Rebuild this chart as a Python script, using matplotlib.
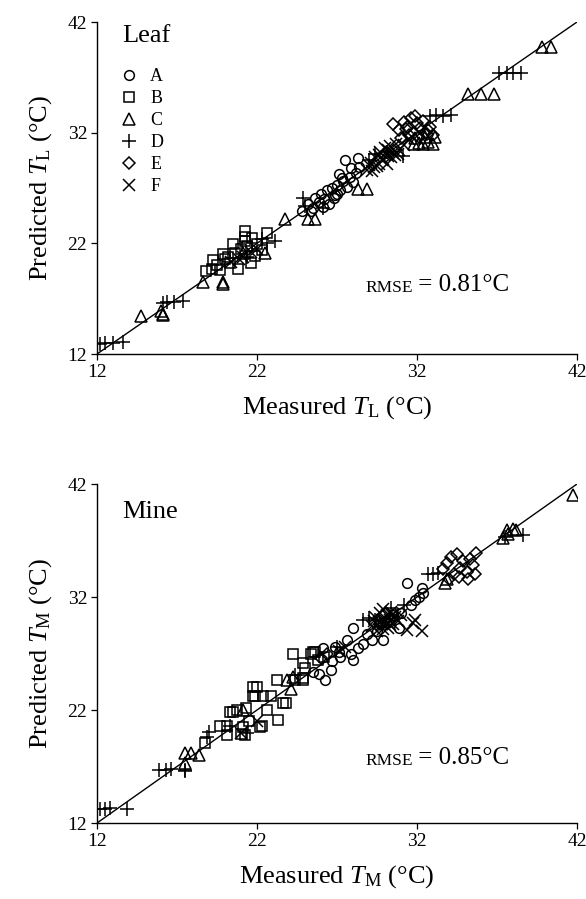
import matplotlib
matplotlib.use('Agg')
import matplotlib.pyplot as plt

plt.rcParams['font.family'] = 'Liberation Serif'
plt.rcParams['mathtext.fontset'] = 'custom'
plt.rcParams['mathtext.rm'] = 'Liberation Serif'
plt.rcParams['mathtext.it'] = 'Liberation Serif:italic'

# ---- Leaf panel: measured vs predicted leaf temperature (deg C) ----
leaf_a_meas = [24.8, 25.2, 25.5, 25.6, 25.9, 26.0, 26.2, 26.4, 26.5, 26.7, 26.9, 27.0, 27.2, 27.4,
               27.6, 27.8, 28.0, 28.2, 28.4, 25.4, 26.1, 26.8, 27.3, 27.9, 27.5, 28.3, 27.1, 27.0]
leaf_a_pred = [24.9, 25.6, 25.2, 26.1, 25.7, 26.5, 26.0, 26.8, 25.6, 27.0, 26.4, 27.3, 26.8, 27.6,
               27.1, 28.0, 27.5, 28.4, 28.9, 24.9, 25.3, 26.1, 27.9, 28.8, 29.5, 29.7, 28.3, 26.5]
leaf_b_meas = [19.2, 19.25, 19.7, 19.9, 20.3, 20.5, 20.6, 20.8, 21.25, 21.25, 21.25, 21.6, 21.7,
               22.0, 22.6, 19.5, 20.0, 21.0, 21.9, 22.3, 20.2, 21.4, 18.8]
leaf_b_pred = [19.7, 20.5, 19.6, 21.0, 20.2, 21.9, 21.1, 19.7, 23.1, 22.6, 22.2, 20.2, 22.5,
               21.9, 22.9, 20.0, 20.6, 21.5, 20.9, 21.4, 20.8, 21.8, 19.5]
leaf_c_meas = [14.75, 16.1, 16.1, 16.0, 18.6, 19.9, 19.9, 21.1, 22.5, 23.75, 25.2, 25.6, 28.3, 28.9,
               31.8, 32.1, 32.4, 32.7, 33.0, 31.9, 32.5, 33.1, 35.2, 36.0, 36.8, 39.8, 40.4]
leaf_c_pred = [15.4, 15.5, 15.6, 15.9, 18.5, 18.5, 18.3, 21.1, 21.1, 24.2, 24.2, 24.2, 26.9, 26.9,
               31.0, 31.1, 31.0, 31.2, 31.0, 31.5, 31.6, 31.6, 35.5, 35.5, 35.5, 39.7, 39.7]
leaf_d_meas = [12.2, 12.5, 13.0, 13.6, 16.1, 16.4, 16.8, 17.4, 21.4, 22.3, 23.1, 22.6, 25.0, 24.9,
               26.1, 29.0, 29.4, 30.1, 31.1, 32.8, 33.2, 33.6, 34.1, 37.1, 37.6, 38.0, 38.5]
leaf_d_pred = [12.9, 13.0, 13.0, 13.1, 16.6, 16.7, 16.7, 16.8, 20.8, 22.4, 22.2, 22.0, 25.4, 26.1,
               25.2, 29.5, 30.1, 30.3, 29.9, 33.5, 33.6, 33.5, 33.6, 37.4, 37.4, 37.4, 37.4]
leaf_e_meas = [30.5, 30.9, 31.2, 31.4, 31.6, 31.8, 32.0, 32.2, 32.4, 32.6, 32.8, 33.0, 31.0, 31.5,
               32.1, 32.7, 31.3, 31.9, 32.5]
leaf_e_pred = [32.8, 32.2, 33.0, 32.5, 33.3, 32.0, 32.9, 32.4, 33.1, 31.9, 32.5, 31.8, 31.5, 31.8,
               31.6, 32.2, 32.3, 33.5, 32.0]
leaf_f_meas = [28.9, 29.1, 29.3, 29.4, 29.6, 29.7, 29.9, 30.0, 30.2, 30.3, 30.5, 30.7, 30.9, 29.2,
               29.5, 29.8, 30.1, 30.4, 30.6, 29.0, 29.6, 30.2, 30.8, 31.2, 31.5, 21.1, 21.6, 22.0,
               20.4, 20.9]
leaf_f_pred = [28.6, 29.3, 28.9, 29.8, 29.2, 30.3, 29.6, 30.6, 29.9, 30.8, 30.2, 31.0, 30.4, 28.5,
               29.0, 29.5, 29.2, 29.8, 30.0, 29.1, 30.0, 30.4, 30.1, 30.9, 31.4, 20.8, 21.2, 21.5,
               20.3, 20.6]

# ---- Mine panel: measured vs predicted mine temperature (deg C) ----
mine_a_meas = [31.4, 32.3, 32.4, 32.1, 31.9, 31.6, 28.0, 29.9, 29.2, 28.6, 28.3, 28.0, 27.2, 26.7,
               26.1, 27.6, 30.9, 26.25, 26.6, 25.9, 27.1, 27.9, 28.9, 29.5, 30.5, 31.0, 25.5, 26.9]
mine_a_pred = [33.2, 32.8, 32.4, 32.0, 31.7, 31.3, 29.3, 28.2, 28.2, 27.8, 27.5, 26.4, 26.7, 26.3,
               27.5, 28.2, 29.3, 24.65, 25.5, 25.2, 27.1, 27.0, 28.7, 29.0, 30.4, 30.6, 25.4, 27.6]
mine_b_meas = [18.75, 19.7, 20.1, 20.3, 20.75, 21.1, 21.25, 21.75, 21.75, 22.4, 22.6, 22.2, 23.3,
               23.6, 23.8, 23.25, 24.25, 24.9, 25.4, 25.8, 24.9, 24.4, 22.0, 21.9, 22.9, 20.5, 21.3,
               20.1, 21.0, 22.3, 21.5, 25.6, 26.2, 25.0, 24.9, 25.5]
mine_b_pred = [19.1, 20.6, 19.8, 21.8, 22.0, 20.5, 19.8, 24.0, 23.2, 23.2, 22.0, 20.5, 21.1,
               22.6, 22.6, 24.65, 27.0, 26.2, 27.0, 26.4, 24.65, 24.65, 24.0, 23.2, 23.2, 21.8, 22.2,
               20.6, 19.9, 20.6, 21.0, 27.1, 26.7, 25.7, 24.8, 27.1]
mine_c_meas = [17.5, 17.9, 18.4, 17.5, 21.1, 23.9, 24.25, 24.1, 33.75, 33.9, 37.4, 37.7, 38.0, 37.6,
               38.2, 41.75]
mine_c_pred = [18.2, 18.2, 18.0, 17.3, 22.0, 24.65, 24.9, 23.9, 33.2, 33.6, 37.2, 37.6, 38.0, 37.9,
               37.9, 41.0]
mine_d_meas = [12.2, 12.5, 12.8, 13.9, 15.9, 16.3, 16.6, 17.5, 17.5, 18.9, 19.0, 20.3, 21.4, 28.6,
               29.0, 29.4, 32.7, 33.0, 33.3, 37.5, 38.6, 30.4, 31.2, 27.0, 24.4]
mine_d_pred = [13.2, 13.2, 13.3, 13.2, 16.7, 16.7, 16.8, 16.7, 16.6, 19.6, 20.1, 20.6, 20.0, 30.0,
               30.1, 30.0, 34.0, 34.0, 34.1, 37.3, 37.5, 31.0, 31.3, 27.6, 25.1]
mine_e_meas = [33.6, 33.9, 34.1, 34.3, 34.5, 34.7, 34.9, 35.1, 35.3, 35.5, 35.7, 34.0, 34.6, 35.2,
               35.6, 30.0, 30.3, 29.7, 26.4, 26.0]
mine_e_pred = [34.5, 35.0, 35.5, 34.0, 35.8, 34.6, 35.2, 34.2, 35.4, 34.8, 35.9, 33.6, 33.8, 33.6,
               34.0, 30.5, 30.0, 29.6, 27.0, 26.6]
mine_f_meas = [29.2, 29.4, 29.5, 29.7, 29.8, 29.9, 30.0, 30.1, 30.2, 30.3, 30.4, 30.5, 30.6, 30.8,
               29.6, 29.9, 30.2, 30.5, 29.3, 29.8, 30.3, 31.0, 31.4, 31.75, 31.9, 32.3, 27.5, 27.1,
               21.0, 22.0]
mine_f_pred = [29.4, 30.2, 29.0, 30.6, 29.6, 30.9, 29.8, 30.4, 29.3, 30.0, 30.7, 29.6, 30.2, 29.9,
               29.8, 29.2, 29.7, 30.5, 29.9, 30.0, 29.5, 30.4, 29.1, 29.7, 30.0, 29.0, 27.6, 27.2,
               20.0, 21.0]

site_labels = ['A', 'B', 'C', 'D', 'E', 'F']
ticks = [12, 22, 32, 42]

leaf_series = [(leaf_a_meas, leaf_a_pred), (leaf_b_meas, leaf_b_pred), (leaf_c_meas, leaf_c_pred),
               (leaf_d_meas, leaf_d_pred), (leaf_e_meas, leaf_e_pred), (leaf_f_meas, leaf_f_pred)]
mine_series = [(mine_a_meas, mine_a_pred), (mine_b_meas, mine_b_pred), (mine_c_meas, mine_c_pred),
               (mine_d_meas, mine_d_pred), (mine_e_meas, mine_e_pred), (mine_f_meas, mine_f_pred)]

marker_style = {'A': ('o', 7.0), 'B': ('s', 7.0), 'C': ('^', 8.0),
                'D': ('+', 10.0), 'E': ('D', 6.0), 'F': ('x', 8.5)}


def draw_panel(ax, series, sub, name, rmse_txt, name_y, rmse_y):
    handles = []
    for label, (meas, pred) in zip(site_labels, series):
        m, ms = marker_style[label]
        h, = ax.plot(meas, pred, linestyle='none', marker=m, markersize=ms,
                     markerfacecolor='none', markeredgecolor='black', markeredgewidth=1.1,
                     label=label, zorder=3)
        handles.append(h)
    ax.plot([12, 42], [12, 42], color='black', linewidth=1.0, zorder=2)

    ax.set_xlim(12, 42)
    ax.set_ylim(12, 42)
    ax.set_xticks(ticks)
    ax.set_yticks(ticks)
    ax.tick_params(direction='out', length=4, width=0.9, labelsize=14, pad=3)
    for s in ['top', 'right']:
        ax.spines[s].set_visible(False)
    for s in ['left', 'bottom']:
        ax.spines[s].set_linewidth(1.0)

    ax.set_xlabel(r'Measured $T_{\mathrm{%s}}$ (°C)' % sub, fontsize=19, labelpad=10)
    ax.set_ylabel(r'Predicted $T_{\mathrm{%s}}$ (°C)' % sub, fontsize=19, labelpad=10)

    ax.text(0.052, name_y, name, transform=ax.transAxes, fontsize=19)

    t1 = ax.text(28.75, rmse_y, 'RMSE', fontsize=12.5)
    ax.annotate(' = ' + rmse_txt, xy=(1, 0), xycoords=t1, xytext=(0, 0),
                textcoords='offset points', fontsize=18, va='bottom')
    return handles


fig = plt.figure(figsize=(5.86, 8.99), dpi=100)
ax1 = fig.add_axes([0.1655, 0.6062, 0.8191, 0.3693])
ax2 = fig.add_axes([0.1655, 0.0845, 0.8191, 0.3771])

h = draw_panel(ax1, leaf_series, 'L', 'Leaf', '0.81°C', 0.94, 17.6)
draw_panel(ax2, mine_series, 'M', 'Mine', '0.85°C', 0.90, 17.1)

ax1.legend(handles=h, loc='upper left', bbox_to_anchor=(0.047, 0.862), frameon=False,
           fontsize=13, handlelength=1.0, handletextpad=0.7, labelspacing=0.28,
           borderpad=0, borderaxespad=0)

fig.savefig('out.png', dpi=100)
